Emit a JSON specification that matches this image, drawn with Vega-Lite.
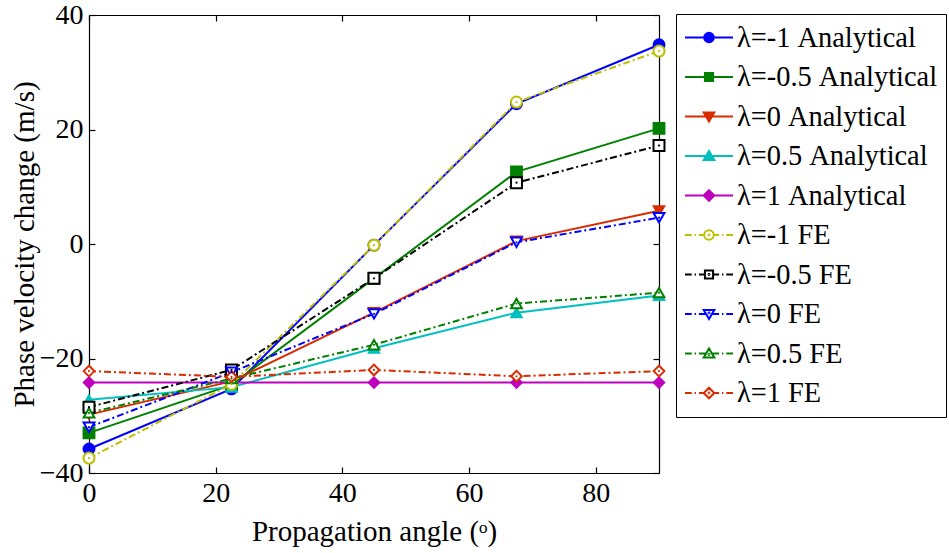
{
  "$schema": "https://vega.github.io/schema/vega-lite/v6.json",
  "width": 570,
  "height": 458,
  "autosize": "none",
  "padding": {"left": 89, "top": 15, "right": 290, "bottom": 80},
  "background": "white",
  "config": {
    "view": {"stroke": null},
    "font": "Liberation Serif",
    "axis": {
      "labelFont": "Liberation Serif", "labelFontSize": 28, "labelColor": "black",
      "titleFont": "Liberation Serif", "titleFontSize": 29, "titleFontWeight": "normal", "titleColor": "black",
      "domainColor": "black", "domainWidth": 1.2, "tickColor": "black", "tickWidth": 1.2,
      "grid": false, "labelFlush": false, "labelOverlap": false
    },
    "legend": {
      "labelFont": "Liberation Serif", "labelFontSize": 28.4, "labelColor": "black", "labelLimit": 0,
      "symbolSize": 2304, "symbolStrokeWidth": 2, "clipHeight": 31, "rowPadding": 8.5,
      "padding": 8, "strokeColor": "black", "fillColor": "white", "labelOffset": 3, "symbolOffset": 0,
      "symbolOpacity": 1
    }
  },
  "data": {"values": [
    {"series": "λ=-1 Analytical", "method": "Analytical", "angle": 0, "v": -35.8},
    {"series": "λ=-1 Analytical", "method": "Analytical", "angle": 22.5, "v": -25.3},
    {"series": "λ=-1 Analytical", "method": "Analytical", "angle": 45, "v": -0.2},
    {"series": "λ=-1 Analytical", "method": "Analytical", "angle": 67.5, "v": 24.5},
    {"series": "λ=-1 Analytical", "method": "Analytical", "angle": 90, "v": 34.8},
    {"series": "λ=-0.5 Analytical", "method": "Analytical", "angle": 0, "v": -33.0},
    {"series": "λ=-0.5 Analytical", "method": "Analytical", "angle": 22.5, "v": -24.6},
    {"series": "λ=-0.5 Analytical", "method": "Analytical", "angle": 45, "v": -6.0},
    {"series": "λ=-0.5 Analytical", "method": "Analytical", "angle": 67.5, "v": 12.6},
    {"series": "λ=-0.5 Analytical", "method": "Analytical", "angle": 90, "v": 20.2},
    {"series": "λ=0 Analytical", "method": "Analytical", "angle": 0, "v": -29.8},
    {"series": "λ=0 Analytical", "method": "Analytical", "angle": 22.5, "v": -24.0},
    {"series": "λ=0 Analytical", "method": "Analytical", "angle": 45, "v": -12.0},
    {"series": "λ=0 Analytical", "method": "Analytical", "angle": 67.5, "v": 0.5},
    {"series": "λ=0 Analytical", "method": "Analytical", "angle": 90, "v": 5.8},
    {"series": "λ=0.5 Analytical", "method": "Analytical", "angle": 0, "v": -27.2},
    {"series": "λ=0.5 Analytical", "method": "Analytical", "angle": 22.5, "v": -25.0},
    {"series": "λ=0.5 Analytical", "method": "Analytical", "angle": 45, "v": -18.2},
    {"series": "λ=0.5 Analytical", "method": "Analytical", "angle": 67.5, "v": -12.0},
    {"series": "λ=0.5 Analytical", "method": "Analytical", "angle": 90, "v": -9.0},
    {"series": "λ=1 Analytical", "method": "Analytical", "angle": 0, "v": -24.2},
    {"series": "λ=1 Analytical", "method": "Analytical", "angle": 22.5, "v": -24.2},
    {"series": "λ=1 Analytical", "method": "Analytical", "angle": 45, "v": -24.2},
    {"series": "λ=1 Analytical", "method": "Analytical", "angle": 67.5, "v": -24.2},
    {"series": "λ=1 Analytical", "method": "Analytical", "angle": 90, "v": -24.2},
    {"series": "λ=-1 FE", "method": "FE", "angle": 0, "v": -37.4},
    {"series": "λ=-1 FE", "method": "FE", "angle": 22.5, "v": -24.5},
    {"series": "λ=-1 FE", "method": "FE", "angle": 45, "v": -0.2},
    {"series": "λ=-1 FE", "method": "FE", "angle": 67.5, "v": 24.8},
    {"series": "λ=-1 FE", "method": "FE", "angle": 90, "v": 33.7},
    {"series": "λ=-0.5 FE", "method": "FE", "angle": 0, "v": -28.5},
    {"series": "λ=-0.5 FE", "method": "FE", "angle": 22.5, "v": -22.0},
    {"series": "λ=-0.5 FE", "method": "FE", "angle": 45, "v": -6.0},
    {"series": "λ=-0.5 FE", "method": "FE", "angle": 67.5, "v": 10.7},
    {"series": "λ=-0.5 FE", "method": "FE", "angle": 90, "v": 17.2},
    {"series": "λ=0 FE", "method": "FE", "angle": 0, "v": -32.0},
    {"series": "λ=0 FE", "method": "FE", "angle": 22.5, "v": -22.4},
    {"series": "λ=0 FE", "method": "FE", "angle": 45, "v": -12.2},
    {"series": "λ=0 FE", "method": "FE", "angle": 67.5, "v": 0.3},
    {"series": "λ=0 FE", "method": "FE", "angle": 90, "v": 4.6},
    {"series": "λ=0.5 FE", "method": "FE", "angle": 0, "v": -29.5},
    {"series": "λ=0.5 FE", "method": "FE", "angle": 22.5, "v": -23.5},
    {"series": "λ=0.5 FE", "method": "FE", "angle": 45, "v": -17.6},
    {"series": "λ=0.5 FE", "method": "FE", "angle": 67.5, "v": -10.4},
    {"series": "λ=0.5 FE", "method": "FE", "angle": 90, "v": -8.5},
    {"series": "λ=1 FE", "method": "FE", "angle": 0, "v": -22.2},
    {"series": "λ=1 FE", "method": "FE", "angle": 22.5, "v": -23.2},
    {"series": "λ=1 FE", "method": "FE", "angle": 45, "v": -22.0},
    {"series": "λ=1 FE", "method": "FE", "angle": 67.5, "v": -23.1},
    {"series": "λ=1 FE", "method": "FE", "angle": 90, "v": -22.2}
  ]},
  "resolve": {
    "scale": {"stroke": "independent", "fill": "independent", "shape": "independent", "strokeDash": "independent", "size": "independent"},
    "axis": {"x": "independent", "y": "independent"}
  },
  "layer": [
    {
      "transform": [{"filter": "datum.method === 'Analytical'"}],
      "mark": {"type": "line", "strokeWidth": 2},
      "encoding": {
        "x": {"field": "angle", "type": "quantitative", "scale": {"domain": [0, 90], "nice": false},
              "axis": {"orient": "bottom", "title": "Propagation angle (ᵒ)", "values": [0, 20, 40, 60, 80], "tickSize": -6, "labelPadding": 12, "titlePadding": 10}},
        "y": {"field": "v", "type": "quantitative", "scale": {"domain": [-40, 40], "nice": false},
              "axis": {"orient": "left", "title": "Phase velocity change (m/s)", "values": [-40, -20, 0, 20, 40], "tickSize": -6, "labelPadding": 12, "titlePadding": 0}},
        "stroke": {"field": "series", "type": "nominal", "legend": null,
          "scale": {"domain": ["λ=-1 Analytical","λ=-0.5 Analytical","λ=0 Analytical","λ=0.5 Analytical","λ=1 Analytical","λ=-1 FE","λ=-0.5 FE","λ=0 FE","λ=0.5 FE","λ=1 FE"],
                    "range": ["#0000FF","#008000","#D92B00","#00BFBF","#BF00BF","#BFBF00","#000000","#0000FF","#008000","#D92B00"]}}
      }
    },
    {
      "transform": [{"filter": "datum.method === 'Analytical'"}],
      "mark": {"type": "point", "filled": true, "opacity": 1, "strokeWidth": 1.5},
      "encoding": {
        "x": {"field": "angle", "type": "quantitative", "scale": {"domain": [0, 90], "nice": false},
              "axis": {"orient": "top", "title": null, "labels": false, "values": [0, 20, 40, 60, 80], "tickSize": -6}},
        "y": {"field": "v", "type": "quantitative", "scale": {"domain": [-40, 40], "nice": false},
              "axis": {"orient": "right", "title": null, "labels": false, "values": [-40, -20, 0, 20, 40], "tickSize": -6}},
        "stroke": {"field": "series", "type": "nominal", "legend": null,
          "scale": {"domain": ["λ=-1 Analytical","λ=-0.5 Analytical","λ=0 Analytical","λ=0.5 Analytical","λ=1 Analytical","λ=-1 FE","λ=-0.5 FE","λ=0 FE","λ=0.5 FE","λ=1 FE"],
                    "range": ["#0000FF","#008000","#D92B00","#00BFBF","#BF00BF","#BFBF00","#000000","#0000FF","#008000","#D92B00"]}},
        "fill": {"field": "series", "type": "nominal", "legend": null,
          "scale": {"domain": ["λ=-1 Analytical","λ=-0.5 Analytical","λ=0 Analytical","λ=0.5 Analytical","λ=1 Analytical","λ=-1 FE","λ=-0.5 FE","λ=0 FE","λ=0.5 FE","λ=1 FE"],
                    "range": ["#0000FF","#008000","#D92B00","#00BFBF","#BF00BF","white","white","white","white","white"]}},
        "shape": {"field": "series", "type": "nominal", "legend": null,
          "scale": {"domain": ["λ=-1 Analytical","λ=-0.5 Analytical","λ=0 Analytical","λ=0.5 Analytical","λ=1 Analytical","λ=-1 FE","λ=-0.5 FE","λ=0 FE","λ=0.5 FE","λ=1 FE"],
                    "range": ["circle","square","triangle-down","triangle-up","diamond","circle","square","triangle-down","triangle-up","diamond"]}},
        "size": {"field": "series", "type": "nominal", "legend": null,
          "scale": {"domain": ["λ=-1 Analytical","λ=-0.5 Analytical","λ=0 Analytical","λ=0.5 Analytical","λ=1 Analytical","λ=-1 FE","λ=-0.5 FE","λ=0 FE","λ=0.5 FE","λ=1 FE"],
                    "range": [130, 115, 140, 140, 170, 130, 115, 140, 140, 170]}}
      }
    },
    {
      "transform": [{"filter": "datum.method === 'FE'"}],
      "mark": {"type": "line", "strokeWidth": 2},
      "encoding": {
        "x": {"field": "angle", "type": "quantitative", "scale": {"domain": [0, 90], "nice": false}, "axis": null},
        "y": {"field": "v", "type": "quantitative", "scale": {"domain": [-40, 40], "nice": false}, "axis": null},
        "stroke": {"field": "series", "type": "nominal", "legend": null,
          "scale": {"domain": ["λ=-1 Analytical","λ=-0.5 Analytical","λ=0 Analytical","λ=0.5 Analytical","λ=1 Analytical","λ=-1 FE","λ=-0.5 FE","λ=0 FE","λ=0.5 FE","λ=1 FE"],
                    "range": ["#0000FF","#008000","#D92B00","#00BFBF","#BF00BF","#BFBF00","#000000","#0000FF","#008000","#D92B00"]}},
        "strokeDash": {"field": "series", "type": "nominal", "legend": null,
          "scale": {"domain": ["λ=-1 Analytical","λ=-0.5 Analytical","λ=0 Analytical","λ=0.5 Analytical","λ=1 Analytical","λ=-1 FE","λ=-0.5 FE","λ=0 FE","λ=0.5 FE","λ=1 FE"],
                    "range": [[1,0],[1,0],[1,0],[1,0],[1,0],[7,3,2,3],[7,3,2,3],[7,3,2,3],[7,3,2,3],[7,3,2,3]]}}
      }
    },
    {
      "transform": [{"filter": "datum.method === 'FE'"}],
      "mark": {"type": "point", "filled": true, "opacity": 1, "strokeWidth": 2},
      "encoding": {
        "x": {"field": "angle", "type": "quantitative", "scale": {"domain": [0, 90], "nice": false}, "axis": null},
        "y": {"field": "v", "type": "quantitative", "scale": {"domain": [-40, 40], "nice": false}, "axis": null},
        "stroke": {"field": "series", "type": "nominal", "legend": null,
          "scale": {"domain": ["λ=-1 Analytical","λ=-0.5 Analytical","λ=0 Analytical","λ=0.5 Analytical","λ=1 Analytical","λ=-1 FE","λ=-0.5 FE","λ=0 FE","λ=0.5 FE","λ=1 FE"],
                    "range": ["#0000FF","#008000","#D92B00","#00BFBF","#BF00BF","#BFBF00","#000000","#0000FF","#008000","#D92B00"]}},
        "fill": {"field": "series", "type": "nominal", "legend": null,
          "scale": {"domain": ["λ=-1 Analytical","λ=-0.5 Analytical","λ=0 Analytical","λ=0.5 Analytical","λ=1 Analytical","λ=-1 FE","λ=-0.5 FE","λ=0 FE","λ=0.5 FE","λ=1 FE"],
                    "range": ["#0000FF","#008000","#D92B00","#00BFBF","#BF00BF","white","white","white","white","white"]}},
        "shape": {"field": "series", "type": "nominal", "legend": null,
          "scale": {"domain": ["λ=-1 Analytical","λ=-0.5 Analytical","λ=0 Analytical","λ=0.5 Analytical","λ=1 Analytical","λ=-1 FE","λ=-0.5 FE","λ=0 FE","λ=0.5 FE","λ=1 FE"],
                    "range": ["circle","square","triangle-down","triangle-up","diamond","circle","square","triangle-down","triangle-up","diamond"]}},
        "size": {"field": "series", "type": "nominal", "legend": null,
          "scale": {"domain": ["λ=-1 Analytical","λ=-0.5 Analytical","λ=0 Analytical","λ=0.5 Analytical","λ=1 Analytical","λ=-1 FE","λ=-0.5 FE","λ=0 FE","λ=0.5 FE","λ=1 FE"],
                    "range": [130, 115, 140, 140, 170, 130, 100, 140, 140, 150]}}
      }
    },
    {
      "transform": [{"filter": "datum.method === 'FE'"}],
      "mark": {"type": "point", "filled": true, "opacity": 1, "size": 5, "shape": "circle"},
      "encoding": {
        "x": {"field": "angle", "type": "quantitative", "scale": {"domain": [0, 90], "nice": false}, "axis": null},
        "y": {"field": "v", "type": "quantitative", "scale": {"domain": [-40, 40], "nice": false}, "axis": null},
        "fill": {"field": "series", "type": "nominal", "legend": null,
          "scale": {"domain": ["λ=-1 Analytical","λ=-0.5 Analytical","λ=0 Analytical","λ=0.5 Analytical","λ=1 Analytical","λ=-1 FE","λ=-0.5 FE","λ=0 FE","λ=0.5 FE","λ=1 FE"],
                    "range": ["#0000FF","#008000","#D92B00","#00BFBF","#BF00BF","#BFBF00","#000000","#0000FF","#008000","#D92B00"]}}
      }
    },
    {
      "data": {"values": []},
      "mark": {"type": "point", "filled": true, "opacity": 1, "strokeWidth": 2},
      "encoding": {
        "stroke": {"field": "series", "type": "nominal",
          "legend": {"orient": "none", "legendX": 587, "legendY": -1, "title": null, "direction": "vertical"},
          "scale": {"domain": ["λ=-1 Analytical","λ=-0.5 Analytical","λ=0 Analytical","λ=0.5 Analytical","λ=1 Analytical","λ=-1 FE","λ=-0.5 FE","λ=0 FE","λ=0.5 FE","λ=1 FE"],
                    "range": ["#0000FF","#008000","#D92B00","#00BFBF","#BF00BF","#BFBF00","#000000","#0000FF","#008000","#D92B00"]}},
        "fill": {"field": "series", "type": "nominal",
          "legend": {"orient": "none", "legendX": 587, "legendY": -1, "title": null, "direction": "vertical"},
          "scale": {"domain": ["λ=-1 Analytical","λ=-0.5 Analytical","λ=0 Analytical","λ=0.5 Analytical","λ=1 Analytical","λ=-1 FE","λ=-0.5 FE","λ=0 FE","λ=0.5 FE","λ=1 FE"],
                    "range": ["#0000FF","#008000","#D92B00","#00BFBF","#BF00BF","white","white","white","white","white"]}},
        "shape": {"field": "series", "type": "nominal",
          "legend": {"orient": "none", "legendX": 587, "legendY": -1, "title": null, "direction": "vertical"},
          "scale": {"domain": ["λ=-1 Analytical","λ=-0.5 Analytical","λ=0 Analytical","λ=0.5 Analytical","λ=1 Analytical","λ=-1 FE","λ=-0.5 FE","λ=0 FE","λ=0.5 FE","λ=1 FE"],
                    "range": [
                      "M-1,0H-0.2M0.2,0H1M0.2,0A0.2,0.2,0,1,1,-0.2,0A0.2,0.2,0,1,1,0.2,0Z",
                      "M-1,0H-0.17M0.17,0H1M-0.17,-0.17H0.17V0.17H-0.17Z",
                      "M-1,0H-0.12M0.12,0H1M-0.22,-0.17H0.22L0,0.21Z",
                      "M-1,0H-0.12M0.12,0H1M-0.22,0.17H0.22L0,-0.21Z",
                      "M-1,0H-0.22M0.22,0H1M0,-0.22L0.22,0L0,0.22L-0.22,0Z",
                      "M-1,0H-0.72M-0.6,0H-0.54M-0.42,0H-0.2M0.2,0H0.42M0.54,0H0.6M0.72,0H1M0.2,0A0.2,0.2,0,1,1,-0.2,0A0.2,0.2,0,1,1,0.2,0ZM0.02,0A0.02,0.02,0,1,1,-0.02,0A0.02,0.02,0,1,1,0.02,0Z",
                      "M-1,0H-0.72M-0.6,0H-0.54M-0.42,0H-0.17M0.17,0H0.42M0.54,0H0.6M0.72,0H1M-0.17,-0.17H0.17V0.17H-0.17ZM0.02,0A0.02,0.02,0,1,1,-0.02,0A0.02,0.02,0,1,1,0.02,0Z",
                      "M-1,0H-0.72M-0.6,0H-0.54M-0.42,0H-0.12M0.12,0H0.42M0.54,0H0.6M0.72,0H1M-0.22,-0.17H0.22L0,0.21ZM0.02,-0.04A0.02,0.02,0,1,1,-0.02,-0.04A0.02,0.02,0,1,1,0.02,-0.04Z",
                      "M-1,0H-0.72M-0.6,0H-0.54M-0.42,0H-0.12M0.12,0H0.42M0.54,0H0.6M0.72,0H1M-0.22,0.17H0.22L0,-0.21ZM0.02,0.04A0.02,0.02,0,1,1,-0.02,0.04A0.02,0.02,0,1,1,0.02,0.04Z",
                      "M-1,0H-0.72M-0.6,0H-0.54M-0.42,0H-0.22M0.22,0H0.42M0.54,0H0.6M0.72,0H1M0,-0.22L0.22,0L0,0.22L-0.22,0ZM0.02,0A0.02,0.02,0,1,1,-0.02,0A0.02,0.02,0,1,1,0.02,0Z"
                    ]}}
      }
    }
  ]
}
